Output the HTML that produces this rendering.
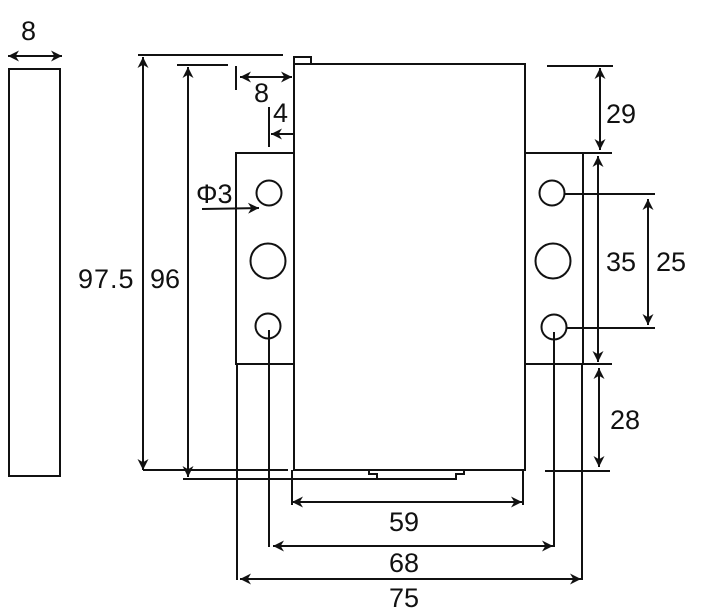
<!DOCTYPE html>
<html><head><meta charset="utf-8"><style>
html,body{margin:0;padding:0;background:#fff;}
svg{display:block;}
text{font-family:"Liberation Sans",sans-serif;font-size:27px;fill:#111;}
</style></head><body>
<svg width="717" height="616" viewBox="0 0 717 616" xmlns="http://www.w3.org/2000/svg">
<defs>
<marker id="a" viewBox="0 0 10 10" refX="10" refY="5" markerWidth="12" markerHeight="11" markerUnits="userSpaceOnUse" orient="auto-start-reverse">
<path d="M0,0 L10,5 L0,10 L3,5 Z" fill="#111"/>
</marker>
</defs>
<g stroke="#111" stroke-width="2" fill="none">
<rect x="9" y="69" width="51" height="407"/>
<line x1="8" y1="56" x2="62" y2="56" marker-start="url(#a)" marker-end="url(#a)"/>
<rect x="294" y="64" width="231" height="406"/>
<rect x="294" y="57" width="17" height="7"/>
<rect x="236" y="153" width="58" height="211"/>
<rect x="525" y="153" width="58" height="211"/>
<circle cx="269" cy="193" r="12.5"/>
<circle cx="268" cy="261" r="17.5"/>
<circle cx="268" cy="326" r="12.5"/>
<circle cx="552" cy="193" r="12.5"/>
<circle cx="553" cy="261" r="17.5"/>
<circle cx="554" cy="327" r="12.5"/>
<polyline points="143,470 288,470"/>
<polyline points="183,479 377,479"/>
<polyline points="292,470 292,479"/>
<polyline points="369,470 369,474 377,474 377,479 456,479 456,474 464,474 464,470"/>
<line x1="138" y1="55" x2="283" y2="55"/>
<line x1="143" y1="57" x2="143" y2="470" marker-start="url(#a)" marker-end="url(#a)"/>
<line x1="177" y1="65" x2="228" y2="65"/>
<line x1="188" y1="67" x2="188" y2="477" marker-start="url(#a)" marker-end="url(#a)"/>
<line x1="236" y1="66" x2="236" y2="90"/>
<line x1="240" y1="77" x2="292" y2="77" marker-start="url(#a)" marker-end="url(#a)"/>
<line x1="269" y1="107" x2="269" y2="147"/>
<line x1="293" y1="134" x2="271" y2="134" marker-end="url(#a)"/>
<line x1="202" y1="209" x2="259" y2="208" marker-end="url(#a)"/>
<line x1="547" y1="66" x2="613" y2="66"/>
<line x1="600" y1="68" x2="600" y2="150" marker-start="url(#a)" marker-end="url(#a)"/>
<line x1="583" y1="153" x2="612" y2="153"/>
<line x1="598" y1="156" x2="598" y2="362" marker-start="url(#a)" marker-end="url(#a)"/>
<line x1="565" y1="194" x2="655" y2="194"/>
<line x1="567" y1="328" x2="655" y2="328"/>
<line x1="648" y1="199" x2="648" y2="325" marker-start="url(#a)" marker-end="url(#a)"/>
<line x1="525" y1="364" x2="612" y2="364"/>
<line x1="599" y1="368" x2="599" y2="467" marker-start="url(#a)" marker-end="url(#a)"/>
<line x1="545" y1="471" x2="610" y2="471"/>
<line x1="292" y1="479" x2="292" y2="505"/>
<line x1="523" y1="470" x2="523" y2="505"/>
<line x1="292" y1="502" x2="522" y2="502" marker-start="url(#a)" marker-end="url(#a)"/>
<line x1="269" y1="330" x2="269" y2="547"/>
<line x1="554" y1="332" x2="554" y2="547"/>
<line x1="273" y1="546" x2="553" y2="546" marker-start="url(#a)" marker-end="url(#a)"/>
<line x1="237" y1="364" x2="237" y2="580"/>
<line x1="582" y1="364" x2="582" y2="580"/>
<line x1="240" y1="579" x2="581" y2="579" marker-start="url(#a)" marker-end="url(#a)"/>
</g>
<text x="21" y="40">8</text>
<text x="78" y="288" letter-spacing="1">97.5</text>
<text x="150" y="288">96</text>
<text x="254" y="102">8</text>
<text x="273" y="122">4</text>
<text x="196" y="203">Φ3</text>
<text x="606" y="123">29</text>
<text x="606" y="271">35</text>
<text x="656" y="271">25</text>
<text x="610" y="429">28</text>
<text x="389" y="531">59</text>
<text x="389" y="572">68</text>
<text x="389" y="607">75</text>
</svg>
</body></html>
